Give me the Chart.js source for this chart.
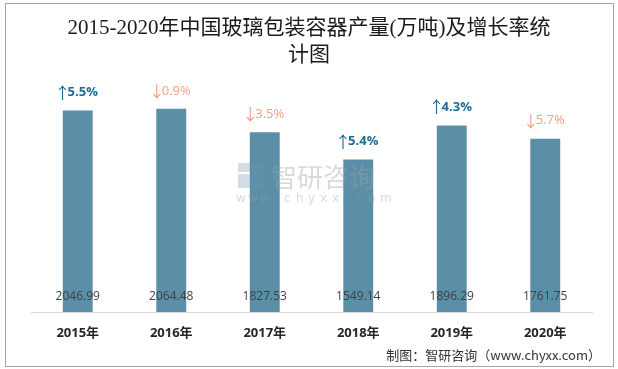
<!DOCTYPE html>
<html><head><meta charset="utf-8">
<script src="https://cdn.jsdelivr.net/npm/chart.js@4"></script>
<style>
html,body{margin:0;padding:0;background:#fff;}
#wrap{position:relative;width:618px;height:369px;}
#frame{position:absolute;left:5px;top:3px;width:609px;height:364px;border:1px solid #a6a6a6;box-sizing:border-box;pointer-events:none;}
</style></head><body>
<div id="wrap"><canvas id="c" width="618" height="369"></canvas><div id="frame"></div></div>
<script>
const categories = ['2015年', '2016年', '2017年', '2018年', '2019年', '2020年'];
const production = [2046.99, 2064.48, 1827.53, 1549.14, 1896.29, 1761.75];
const growth = [5.5, -0.9, -3.5, 5.4, 4.3, -5.7];
const titleLines = ['2015-2020年中国玻璃包装容器产量(万吨)及增长率统', '计图'];
const sourceText = '制图：智研咨询（www.chyxx.com）';

const upColor = '#1d6d93';
const downColor = '#f19f84';

const overlay = {
  id: 'overlay',
  afterDatasetsDraw(chart) {
    const ctx = chart.ctx;
    const meta = chart.getDatasetMeta(0);
    ctx.save();
    ctx.font = '12px "Open Sans", "Noto Sans", sans-serif';
    ctx.fillStyle = '#404040';
    ctx.textAlign = 'center';
    ctx.textBaseline = 'middle';
    meta.data.forEach((bar, i) => {
      ctx.fillText(production[i].toFixed(2), bar.x, chart.chartArea.bottom - 15);
    });
    meta.data.forEach((bar, i) => {
      const g = growth[i];
      const up = g >= 0;
      const numFont = (up ? 'bold ' : '') + '13px "Open Sans", "DejaVu Sans", sans-serif';
      const arrowFont = '16px "Noto Sans CJK SC", sans-serif';
      const arrow = up ? '↑' : '↓';
      const txt = Math.abs(g).toFixed(1) + '%';
      ctx.font = arrowFont;
      const aw = ctx.measureText(arrow).width * 0.62;
      ctx.font = numFont;
      const tw = ctx.measureText(txt).width;
      const x0 = bar.x - (aw + tw) / 2;
      const y = bar.y - 18;
      ctx.fillStyle = up ? upColor : downColor;
      ctx.textAlign = 'left';
      ctx.font = arrowFont;
      ctx.fillText(arrow, x0 - ctx.measureText(arrow).width * 0.19, y);
      ctx.font = numFont;
      ctx.fillText(txt, x0 + aw, y);
    });
    // watermark
    ctx.globalAlpha = 0.4;
    ctx.fillStyle = '#8fa9c4';
    ctx.fillRect(238, 163, 12, 9);
    ctx.fillRect(238, 174, 12, 14);
    ctx.fillStyle = '#6f8fae';
    ctx.fillRect(252, 163, 13, 25);
    ctx.fillStyle = '#9aa3ab';
    ctx.font = '26px "Noto Sans CJK SC", sans-serif';
    ctx.textAlign = 'left';
    ctx.fillText('智研咨询', 271, 177);
    ctx.font = '12px "DejaVu Sans", sans-serif';
    const w = 'www.chyxx.com';
    for (let k = 0; k < w.length; k++) {
      ctx.fillText(w[k], 236 + k * 12, 199);
    }
    ctx.restore();
  },
  afterDraw(chart) {
    const ctx = chart.ctx;
    ctx.save();
    ctx.fillStyle = '#1a1a1a';
    ctx.textAlign = 'center';
    ctx.textBaseline = 'middle';
    ctx.font = '21px "Liberation Serif", "Noto Sans CJK SC", serif';
    ctx.fillText(titleLines[0], 309, 28);
    ctx.fillText(titleLines[1], 309, 55);
    ctx.font = '13px "Noto Sans CJK SC", sans-serif';
    ctx.fillStyle = '#333333';
    ctx.textAlign = 'right';
    ctx.fillText(sourceText, 601, 355);
    ctx.restore();
  }
};

new Chart(document.getElementById('c'), {
  type: 'bar',
  data: {
    labels: categories,
    datasets: [{
      data: production,
      backgroundColor: '#5b8fa7',
      borderWidth: 0,
      barPercentage: 0.64,
      categoryPercentage: 0.5
    }]
  },
  options: {
    responsive: false,
    animation: false,
    events: [],
    layout: { padding: { left: 31, right: 26, top: 66, bottom: 0 } },
    plugins: { legend: { display: false }, tooltip: { enabled: false }, title: { display: false } },
    scales: {
      y: { display: false, min: 0, max: 2500 },
      x: {
        afterFit(scale) { scale.height = 57; },
        grid: { display: false, drawTicks: false },
        border: { display: true, color: '#d9d9d9', width: 1 },
        ticks: {
          padding: 13,
          color: '#262626',
          font: { family: '"Open Sans", "Noto Sans CJK SC", sans-serif', size: 13, weight: 'bold' }
        }
      }
    }
  },
  plugins: [overlay]
});
</script>
</body></html>
